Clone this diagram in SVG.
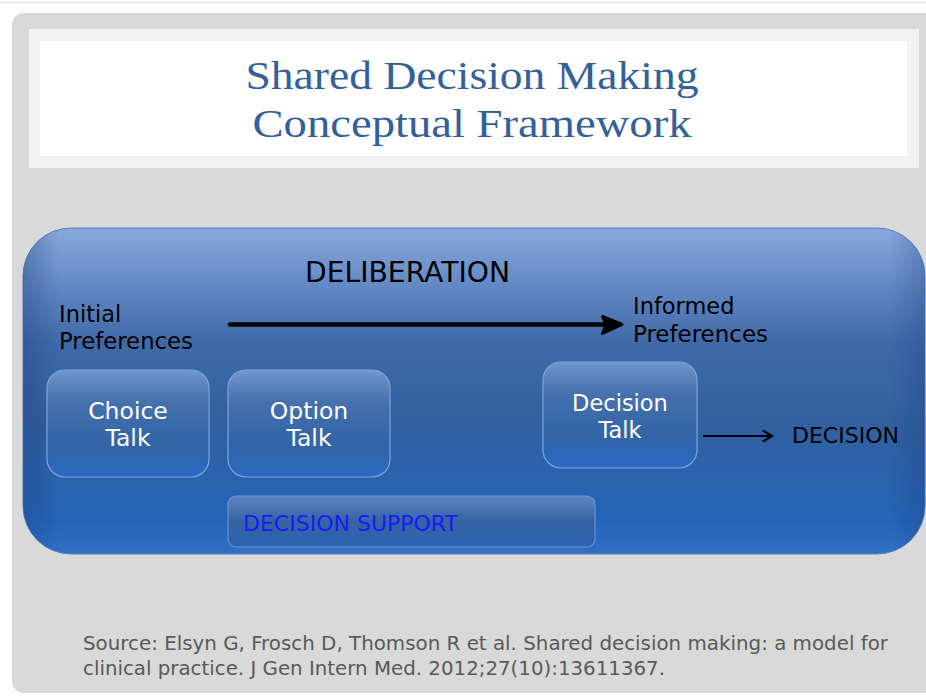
<svg xmlns="http://www.w3.org/2000/svg" width="926" height="698" viewBox="0 0 926 698">
  <defs>
    <linearGradient id="panelFill" x1="0" y1="0" x2="0" y2="1">
      <stop offset="0" stop-color="#88a8dc"/>
      <stop offset="0.12" stop-color="#6e93cd"/>
      <stop offset="0.35" stop-color="#3f6aa8"/>
      <stop offset="0.6" stop-color="#31609f"/>
      <stop offset="0.9" stop-color="#2564b8"/>
      <stop offset="1" stop-color="#3170c4"/>
    </linearGradient>
    <linearGradient id="panelEdge" x1="0" y1="0" x2="1" y2="0">
      <stop offset="0" stop-color="#1c3f78" stop-opacity="0.35"/>
      <stop offset="0.04" stop-color="#1c3f78" stop-opacity="0"/>
      <stop offset="0.96" stop-color="#1c3f78" stop-opacity="0"/>
      <stop offset="1" stop-color="#1c3f78" stop-opacity="0.3"/>
    </linearGradient>
    <linearGradient id="boxFill" x1="0" y1="0" x2="0" y2="1">
      <stop offset="0" stop-color="#7296cd"/>
      <stop offset="0.3" stop-color="#4571ad"/>
      <stop offset="0.7" stop-color="#3264a6"/>
      <stop offset="1" stop-color="#2b6bc4"/>
    </linearGradient>
    <linearGradient id="barFill" x1="0" y1="0" x2="0" y2="1">
      <stop offset="0" stop-color="#5f85c0"/>
      <stop offset="0.5" stop-color="#3563a2"/>
      <stop offset="1" stop-color="#2a64b4"/>
    </linearGradient>
    <marker id="thinHead" markerWidth="14" markerHeight="14" refX="11" refY="7" orient="auto" markerUnits="userSpaceOnUse">
      <path d="M2,1.5 L11,7 L2,12.5" fill="none" stroke="#000" stroke-width="2.2"/>
    </marker>
  </defs>
  <style>
    .sans { font-family: "DejaVu Sans", "Liberation Sans", sans-serif; }
    .dark { fill: #000; }
    .light { fill: #ffffff; }
    .talk { fill: url(#boxFill); stroke: #7fa3da; stroke-width: 1.2; }
  </style>

  <!-- page background -->
  <rect x="0" y="0" width="926" height="698" fill="#ffffff"/>
  <line x1="0" y1="2.5" x2="926" y2="2.5" stroke="#e2e2e2" stroke-width="1.5"/>

  <!-- slide -->
  <rect x="12" y="13" width="940" height="680" rx="12" fill="#d9d9d9"/>

  <!-- title banner -->
  <g id="title">
    <rect x="29" y="29" width="890" height="139" fill="#f2f2f2"/>
    <rect x="40" y="41" width="867" height="115" fill="#ffffff"/>
    <text x="472" y="89" text-anchor="middle" font-family="'Liberation Serif', serif" font-size="41" fill="#33609a" textLength="453" lengthAdjust="spacingAndGlyphs">Shared Decision Making</text>
    <text x="472" y="137" text-anchor="middle" font-family="'Liberation Serif', serif" font-size="41" fill="#33609a" textLength="439" lengthAdjust="spacingAndGlyphs">Conceptual Framework</text>
  </g>

  <!-- deliberation panel -->
  <g id="deliberation">
    <rect x="23" y="228" width="902" height="326" rx="48" fill="url(#panelFill)" stroke="#5a7fbf" stroke-width="1"/>
    <rect x="23" y="228" width="902" height="326" rx="48" fill="url(#panelEdge)"/>
    <text class="sans dark" x="305" y="282" font-size="28" textLength="205" lengthAdjust="spacingAndGlyphs">DELIBERATION</text>
  </g>

  <g id="initial-preferences">
    <text class="sans dark" x="59" y="322" font-size="22.5">Initial</text>
    <text class="sans dark" x="59" y="349" font-size="22.5" textLength="134" lengthAdjust="spacingAndGlyphs">Preferences</text>
  </g>

  <g id="informed-preferences">
    <text class="sans dark" x="633" y="314" font-size="22.5">Informed</text>
    <text class="sans dark" x="633" y="342" font-size="22.5" textLength="135" lengthAdjust="spacingAndGlyphs">Preferences</text>
  </g>

  <g id="choice-talk">
    <rect class="talk" x="47" y="370" width="162" height="107" rx="18"/>
    <text class="sans light" x="128" y="419" font-size="23.5" text-anchor="middle">Choice</text>
    <text class="sans light" x="128" y="446" font-size="23.5" text-anchor="middle">Talk</text>
  </g>

  <g id="option-talk">
    <rect class="talk" x="228" y="370" width="162" height="107" rx="18"/>
    <text class="sans light" x="309" y="419" font-size="23.5" text-anchor="middle">Option</text>
    <text class="sans light" x="309" y="446" font-size="23.5" text-anchor="middle">Talk</text>
  </g>

  <g id="decision-talk">
    <rect class="talk" x="543" y="362" width="154" height="106" rx="18"/>
    <text class="sans light" x="620" y="411" font-size="22.5" text-anchor="middle">Decision</text>
    <text class="sans light" x="620" y="438" font-size="22.5" text-anchor="middle">Talk</text>
  </g>

  <g id="decision">
    <text class="sans dark" x="792" y="443" font-size="22" textLength="107" lengthAdjust="spacingAndGlyphs">DECISION</text>
  </g>

  <g id="decision-support">
    <rect x="228" y="496" width="367" height="51" rx="8" fill="url(#barFill)" stroke="#6a91cf" stroke-width="1.2"/>
    <text class="sans" x="243" y="531" font-size="22" fill="#1a1af5" textLength="215" lengthAdjust="spacingAndGlyphs">DECISION SUPPORT</text>
  </g>

  <!-- connectors -->
  <g id="connectors">
    <line x1="230" y1="324.5" x2="612" y2="324.5" stroke="#000" stroke-width="4.5" stroke-linecap="round"/>
    <path d="M602.5,316.5 L622,324.5 L602.5,333.5 L606,324.5 Z" fill="#000" stroke="#000" stroke-width="3" stroke-linejoin="round"/>
    <line x1="703" y1="436" x2="772" y2="436" stroke="#000" stroke-width="2.2" marker-end="url(#thinHead)"/>
  </g>

  <!-- citation -->
  <g id="source">
    <text class="sans" x="83" y="650" font-size="19" fill="#575b58" textLength="805" lengthAdjust="spacingAndGlyphs">Source: Elsyn G, Frosch D, Thomson R et al. Shared decision making: a model for</text>
    <text class="sans" x="83" y="675" font-size="19" fill="#575b58" textLength="582" lengthAdjust="spacingAndGlyphs">clinical practice. J Gen Intern Med. 2012;27(10):13611367.</text>
  </g>
</svg>
